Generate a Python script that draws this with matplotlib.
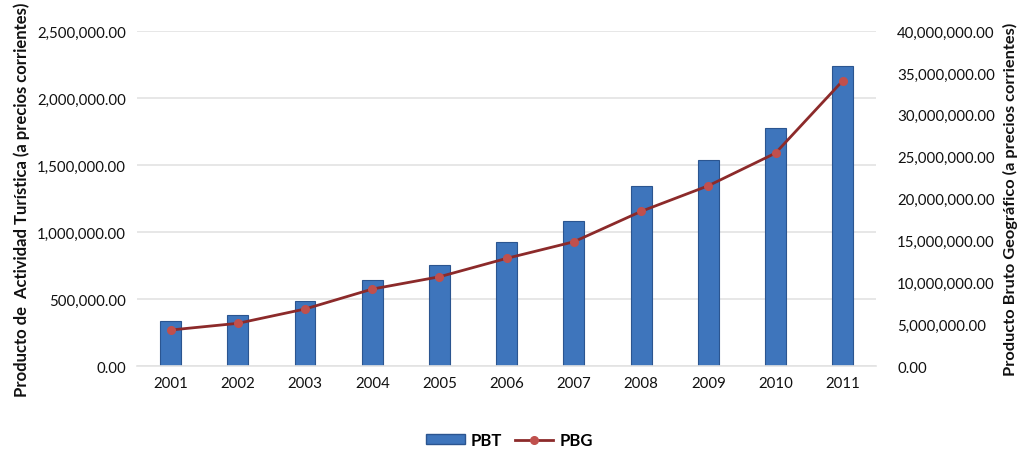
import matplotlib
matplotlib.use("Agg")
import matplotlib.pyplot as plt
from matplotlib.ticker import FuncFormatter, MultipleLocator
from matplotlib.lines import Line2D
from matplotlib.patches import Patch

plt.rcParams['font.family'] = ['Lato', 'DejaVu Sans']

years = ['2001', '2002', '2003', '2004', '2005', '2006',
         '2007', '2008', '2009', '2010', '2011']
# Producto de Actividad Turística (left axis)
pbt = [333000, 380000, 487000, 644000, 756000, 923000,
       1080000, 1346000, 1540000, 1778000, 2241000]
# Producto Bruto Geográfico (right axis)
pbg = [4300000, 5100000, 6810000, 9190000, 10660000, 12860000,
       14840000, 18470000, 21530000, 25430000, 34070000]

bar_color = '#3E75BC'
bar_edge = '#2B5590'
line_color = '#8C2A2A'
marker_color = '#C0504D'
grid_color = '#E3E3E3'
text_color = '#111111'

fig = plt.figure(figsize=(10.19, 4.52), dpi=100)
ax = fig.add_axes([0.1345, 0.188, 0.7255, 0.741])
ax2 = ax.twinx()

x = list(range(len(years)))
ax.bar(x, pbt, width=0.31, color=bar_color, edgecolor=bar_edge, linewidth=0.8, zorder=2)
ax2.plot(x, pbg, color=line_color, linewidth=2.0, marker='o', markersize=5.5,
         markerfacecolor=marker_color, markeredgecolor=marker_color, zorder=3)

ax.set_xlim(-0.5, len(years) - 0.5)
ax.set_ylim(0, 2500000)
ax2.set_ylim(0, 40000000)
ax.yaxis.set_major_locator(MultipleLocator(500000))
ax2.yaxis.set_major_locator(MultipleLocator(5000000))
fmt = FuncFormatter(lambda v, p: f'{v:,.2f}')
ax.yaxis.set_major_formatter(fmt)
ax2.yaxis.set_major_formatter(fmt)

ax.set_xticks(x)
ax.set_xticklabels(years)

ax.grid(axis='y', color=grid_color, linewidth=1.2, zorder=0)
ax.set_axisbelow(True)
for a in (ax, ax2):
    for s in a.spines.values():
        s.set_visible(False)
    a.tick_params(length=0, labelsize=10.8, colors=text_color)
ax.tick_params(axis='y', pad=8)
ax.tick_params(axis='x', pad=7)
ax2.tick_params(axis='y', pad=15)
ax.spines['bottom'].set_visible(True)
ax.spines['bottom'].set_color(grid_color)
ax.spines['bottom'].set_linewidth(1.2)

ax.set_ylabel('Producto de  Actividad Turística (a precios corrientes)',
              fontsize=12, fontweight='bold', color=text_color, labelpad=5)
ax2.set_ylabel('Producto Bruto Geográfico (a precios corrientes)',
               fontsize=11.8, fontweight='bold', color=text_color, labelpad=6)

handles = [Patch(facecolor=bar_color, edgecolor=bar_edge, label='PBT'),
           Line2D([0], [0], color=line_color, linewidth=2, marker='o', markersize=5.5,
                  markerfacecolor=marker_color, markeredgecolor=marker_color, label='PBG')]
leg = fig.legend(handles=handles, loc='center', bbox_to_anchor=(0.5, 0.024), ncol=2,
                 frameon=False, prop={'weight': 'bold', 'size': 12},
                 handlelength=2.3, handleheight=0.5, handletextpad=0.35, columnspacing=0.8)

fig.savefig('out.png', dpi=100)
